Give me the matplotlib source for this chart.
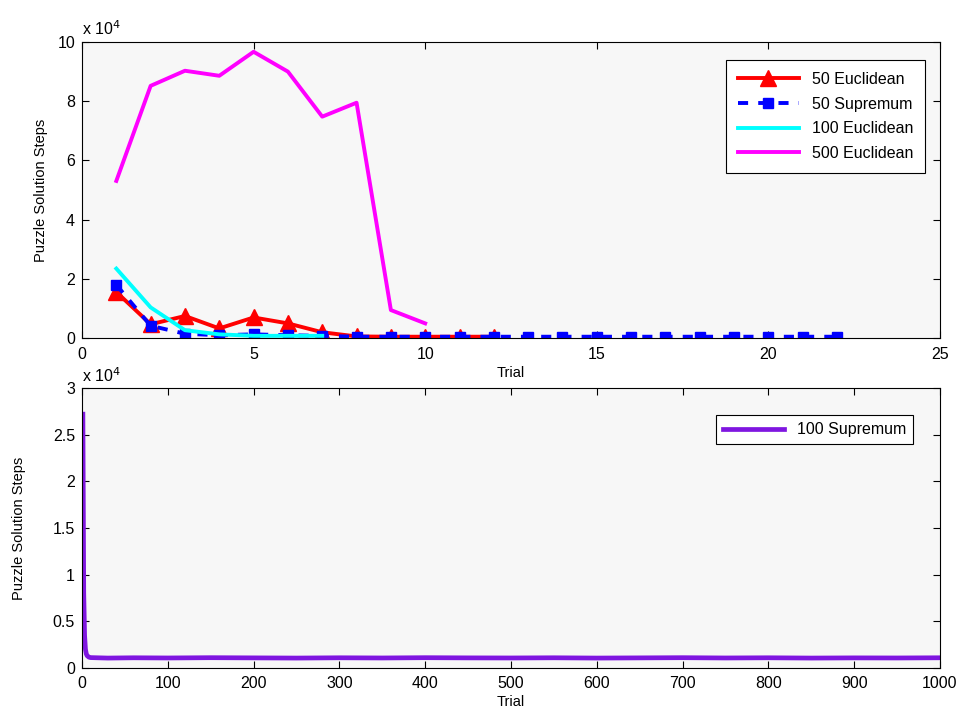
import matplotlib
matplotlib.use("Agg")
import matplotlib.pyplot as plt
from matplotlib.ticker import FuncFormatter, MultipleLocator

plt.rcParams["font.family"] = ["Liberation Sans", "DejaVu Sans"]
plt.rcParams["font.size"] = 11

# top panel data (puzzle solution steps per trial)
trials_50e = list(range(1, 13))
steps_50e = [15600, 4700, 7500, 3300, 7000, 5000, 2000, 600, 500, 500, 500, 500]

trials_50s = list(range(1, 23))
steps_50s = [18000, 4200, 1500, 1000, 1300, 1000, 800, 500, 500, 500, 500, 500,
             500, 500, 500, 500, 500, 500, 500, 500, 500, 500]

trials_100e = list(range(1, 8))
steps_100e = [23500, 10400, 2700, 1300, 800, 800, 800]

trials_500e = list(range(1, 11))
steps_500e = [53100, 85200, 90300, 88600, 96700, 90000, 74800, 79500, 9500, 5000]

# bottom panel (sampled points read from the plateau)
trials_100s = [1, 2, 3, 4, 5, 6, 8, 10, 30, 60, 100, 150, 200, 250, 300, 350, 400,
               450, 500, 550, 600, 650, 700, 750, 800, 850, 900, 950, 1000]
steps_100s = [27200, 8000, 3500, 2000, 1500, 1300, 1150, 1100, 1050, 1080, 1060, 1090,
              1070, 1050, 1080, 1060, 1090, 1070, 1060, 1080, 1050, 1070, 1090, 1060,
              1080, 1050, 1070, 1060, 1080]

bg = "#f7f7f7"
fig = plt.figure(figsize=(9.58, 7.12), dpi=100)
ax1 = fig.add_axes([0.0856, 0.525, 0.8956, 0.416])
ax2 = fig.add_axes([0.0856, 0.062, 0.8956, 0.393])

ax1.plot(trials_50e, steps_50e, color="red", lw=2.8, marker="^", ms=11,
         label="50 Euclidean")
ax1.plot(trials_50s, steps_50s, color="blue", lw=2.8, ls=(0, (2.6, 2.6)), marker="s",
         ms=7, label="50 Supremum")
ax1.plot(trials_100e, steps_100e, color="cyan", lw=2.8, label="100 Euclidean")
ax1.plot(trials_500e, steps_500e, color="magenta", lw=2.8, label="500 Euclidean")

ax2.plot(trials_100s, steps_100s, color="#7f16e0", lw=3.4, label="100 Supremum")

sci = FuncFormatter(lambda v, p: "%g" % (v / 1e4))
for ax in (ax1, ax2):
    ax.set_facecolor(bg)
    ax.yaxis.set_major_formatter(sci)
    ax.tick_params(direction="in", top=True, right=True, length=5, width=0.8,
                   labelsize=11.5, pad=5)
    ax.tick_params(axis="x", pad=6)
    for s in ax.spines.values():
        s.set_linewidth(0.8)
    ax.set_xlabel("Trial", fontsize=10.5, labelpad=3)
    ax.set_ylabel("Puzzle Solution Steps", fontsize=10.5)
    ax.text(0.0, 1.012, r"x 10$^{4}$", transform=ax.transAxes, fontsize=11.5,
            va="bottom", ha="left")

ax1.set_xlim(0, 25)
ax1.set_ylim(0, 100000)
ax1.xaxis.set_major_locator(MultipleLocator(5))
ax1.yaxis.set_major_locator(MultipleLocator(20000))
ax1.yaxis.set_label_coords(-0.040, 0.5)

ax2.set_xlim(0, 1000)
ax2.set_ylim(0, 30000)
ax2.xaxis.set_major_locator(MultipleLocator(100))
ax2.yaxis.set_major_locator(MultipleLocator(5000))
ax2.yaxis.set_label_coords(-0.065, 0.5)

for ax, loc, pad in ((ax1, (0.9825, 0.939), 0.75), (ax2, (0.9685, 0.9036), 0.45)):
    leg = ax.legend(loc="upper right", bbox_to_anchor=loc, fontsize=11.5,
                    fancybox=False, edgecolor="black", framealpha=1,
                    handlelength=3.8, borderpad=pad, labelspacing=0.6,
                    borderaxespad=0)
    leg.get_frame().set_linewidth(0.8)

fig.savefig("out.png", dpi=100)
